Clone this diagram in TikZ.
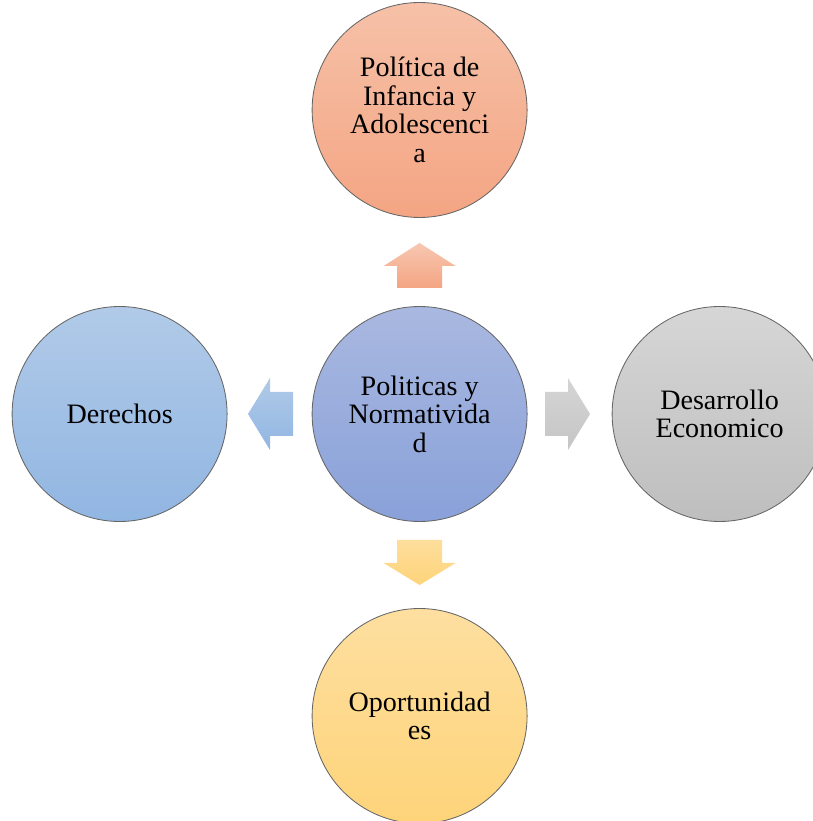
\documentclass[tikz,border=0pt]{standalone}
\usepackage{fontspec}
\setmainfont{Liberation Serif}
\usepackage{xcolor}
\usepackage{tikz}

\definecolor{salmonTop}{RGB}{246,193,168}
\definecolor{salmonBot}{RGB}{244,165,131}
\definecolor{indigoTop}{RGB}{169,184,224}
\definecolor{indigoBot}{RGB}{137,161,217}
\definecolor{skyTop}{RGB}{177,202,232}
\definecolor{skyBot}{RGB}{145,182,226}
\definecolor{greyTop}{RGB}{214,214,214}
\definecolor{greyBot}{RGB}{190,190,190}
\definecolor{goldTop}{RGB}{254,223,160}
\definecolor{goldBot}{RGB}{254,212,122}

\begin{document}
\begin{tikzpicture}[
	bubble/.style={circle,draw=black!60,line width=0.6pt,minimum size=5.375cm,inner sep=0pt,align=center,font=\fontsize{20}{20.3}\selectfont},
	blockarrow/.style={draw=none}
]
	 \useasboundingbox (0,0) rectangle (20.325,20.525);
	 \clip (0,0) rectangle (20.325,20.525);
	 % the five circles
	 \node[bubble,top color=indigoTop,bottom color=indigoBot] (centre) at (10.49,10.175) {Politicas y\\Normativida\\d};
	 \node[bubble,top color=salmonTop,bottom color=salmonBot] (infancia) at (10.49,17.775) {Política de\\Infancia y\\Adolescenci\\a};
	 \node[bubble,top color=skyTop,bottom color=skyBot] (derechos) at (2.99,10.175) {Derechos};
	 \node[bubble,top color=greyTop,bottom color=greyBot] (desarrollo) at (17.99,10.175) {Desarrollo\\Economico};
	 \node[bubble,top color=goldTop,bottom color=goldBot] (oportunidades) at (10.49,2.625) {Oportunidad\\es};
	 % block arrows
	 \shade[blockarrow,top color=salmonTop!90,bottom color=salmonBot] (10.49,14.45) -- (11.39,13.875) -- (11.0525,13.875) -- (11.0525,13.325) -- (9.9275,13.325) -- (9.9275,13.875) -- (9.59,13.875) -- cycle;
	 \shade[blockarrow,top color=goldTop!90!goldBot,bottom color=goldBot] (10.49,5.9) -- (11.39,6.45) -- (11.0525,6.45) -- (11.0525,7.025) -- (9.9275,7.025) -- (9.9275,6.45) -- (9.59,6.45) -- cycle;
	 \shade[blockarrow,top color=skyTop,bottom color=skyBot] (6.2,10.175) -- (6.75,11.075) -- (6.75,10.725) -- (7.325,10.725) -- (7.325,9.625) -- (6.75,9.625) -- (6.75,9.275) -- cycle;
	 \shade[blockarrow,top color=greyTop!95!greyBot,bottom color=greyBot!70!greyTop] (14.75,10.175) -- (14.2,11.075) -- (14.2,10.725) -- (13.625,10.725) -- (13.625,9.625) -- (14.2,9.625) -- (14.2,9.275) -- cycle;
\end{tikzpicture}
\end{document}
